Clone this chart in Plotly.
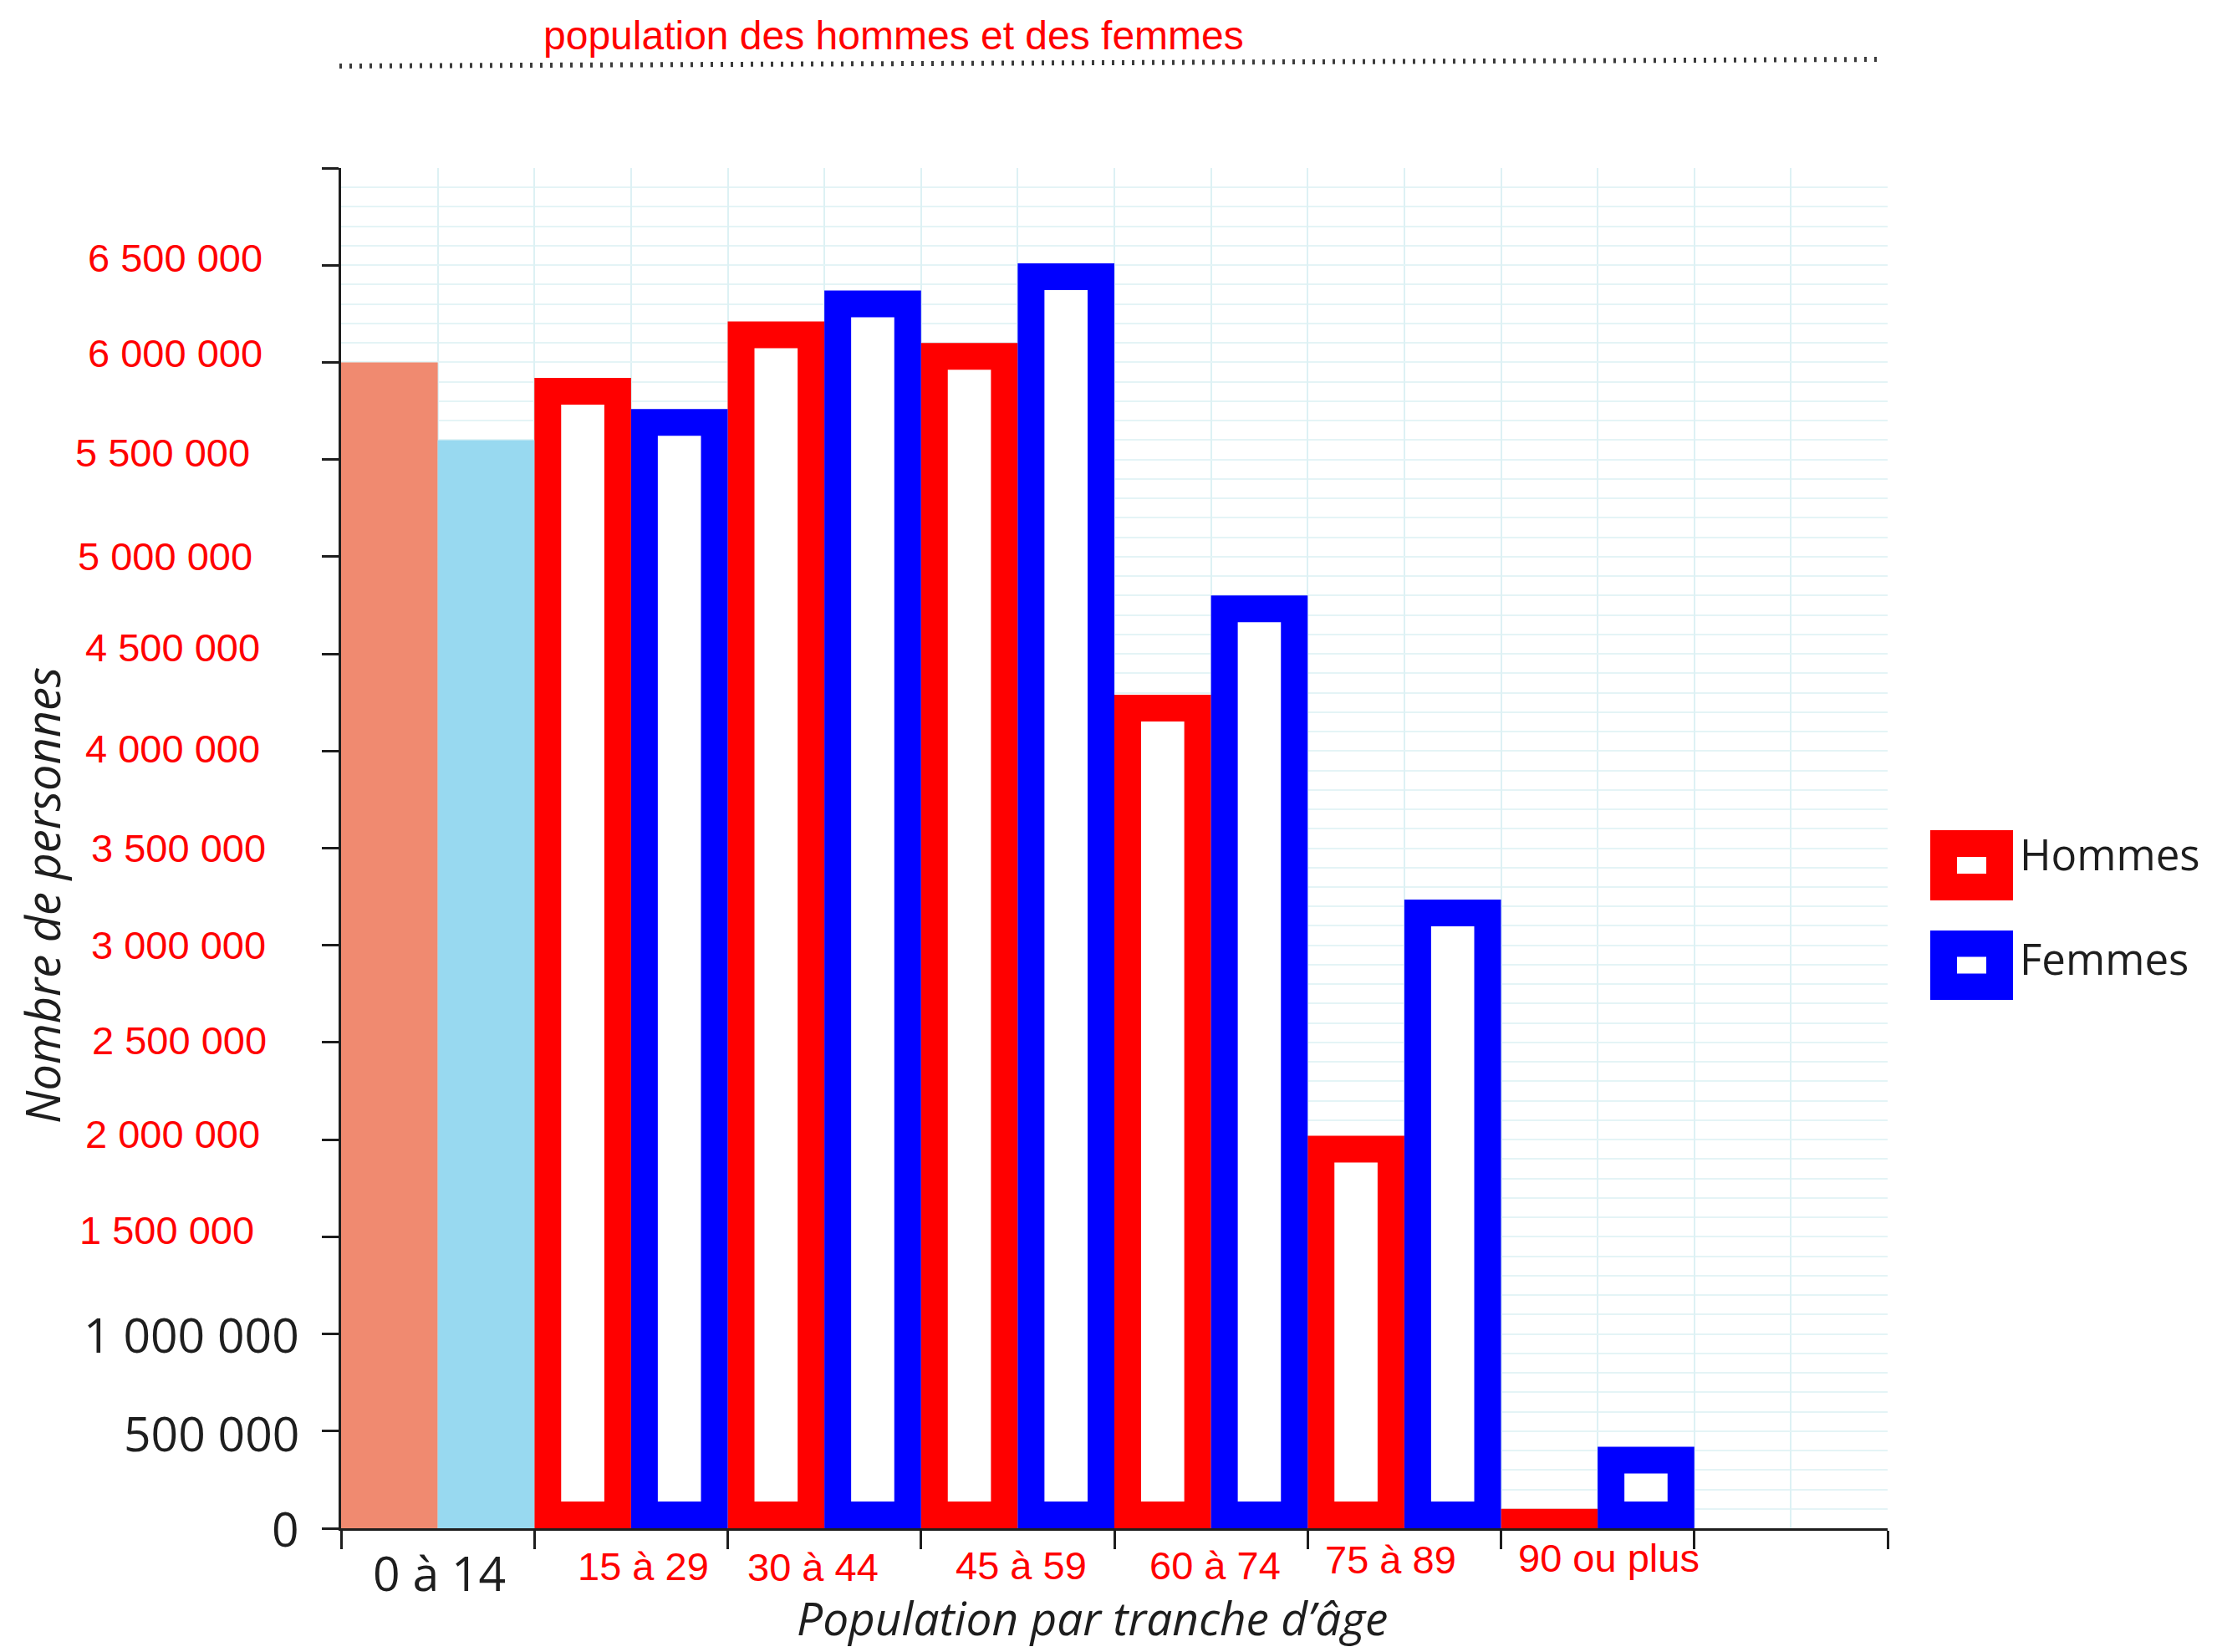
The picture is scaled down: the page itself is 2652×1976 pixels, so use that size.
import plotly.graph_objects as go

# ---- data -------------------------------------------------------------
age_groups = ["0 à 14", "15 à 29", "30 à 44", "45 à 59", "60 à 74", "75 à 89", "90 ou plus"]
hommes = [6000000, 5920000, 6210000, 6100000, 4290000, 2020000, 100000]
femmes = [5600000, 5760000, 6370000, 6510000, 4800000, 3235000, 420000]

y_tick_values = [0, 500000, 1000000, 1500000, 2000000, 2500000, 3000000,
                 3500000, 4000000, 4500000, 5000000, 5500000, 6000000, 6500000]
y_tick_texts = ["0", "500 000", "1 000 000", "1 500 000", "2 000 000", "2 500 000",
                "3 000 000", "3 500 000", "4 000 000", "4 500 000", "5 000 000",
                "5 500 000", "6 000 000", "6 500 000"]

# ---- page geometry ------------------------------------------------------
W, H = 2652, 1976
M_L, M_R, M_T, M_B = 408, 394, 201, 148
PLOT_W = W - M_L - M_R
PLOT_H = H - M_T - M_B
Y_MAX = 7000000
X_RANGE = [-0.5, len(age_groups) + 0.5]      # one spare slot on the right


def paper_x(px):
    return (px - M_L) / PLOT_W


def paper_y(py):
    return (H - M_B - py) / PLOT_H


# ---- styles -------------------------------------------------------------
RED = "#FF0000"
BLUE = "#0000FF"
SALMON = "#F08A70"
LIGHT_BLUE = "#98D9F0"
INK = "#1E1E1E"
GRID_V = "#DDF1F4"
GRID_H = "#E4F4F6"
RED_FONT = "Arial, Liberation Sans, sans-serif"
BOOK_FONT = "Open Sans, Noto Sans, sans-serif"

SLOT = 0.5                                    # each bar fills half a group
EDGE_PX = 32                                  # frame thickness of outlined bars
edge_x = EDGE_PX / (PLOT_W / (X_RANGE[1] - X_RANGE[0]))
edge_y = EDGE_PX / PLOT_H * Y_MAX


def inner_heights(values):
    # first group is drawn as solid bars; small bars stay fully filled
    out = [None]
    for v in values[1:]:
        h = v - 2 * edge_y
        out.append(h if h > 0 else None)
    return out


fig = go.Figure()

series = [
    ("Hommes", hommes, RED, SALMON, -SLOT),
    ("Femmes", femmes, BLUE, LIGHT_BLUE, 0.0),
]
for name, values, frame, solid, offset in series:
    fig.add_trace(go.Bar(
        x=age_groups, y=values, name=name,
        offset=offset, width=SLOT,
        marker=dict(color=[solid] + [frame] * (len(values) - 1), line=dict(width=0)),
        showlegend=False,
    ))
    fig.add_trace(go.Bar(
        x=age_groups, y=inner_heights(values), base=edge_y,
        offset=offset + edge_x, width=SLOT - 2 * edge_x,
        marker=dict(color="white", line=dict(width=0)),
        showlegend=False, hoverinfo="skip",
    ))

# numeric companion axis that carries the baseline, ticks and vertical grid
fig.add_trace(go.Scatter(x=[None], y=[None], xaxis="x2", yaxis="y",
                         mode="markers", showlegend=False, hoverinfo="skip"))

annotations = []

# y tick labels
y_label_dx = [-48, -48, -48, -102, -95, -87, -88, -88, -95, -95, -104, -107, -92, -92]
y_label_dy = [0, -2, 0, 8, 7, 2, 0, 0, 3, 8, 0, 8, 11, 9]
for i, (v, t) in enumerate(zip(y_tick_values, y_tick_texts)):
    if v <= 1000000:
        font = dict(family=BOOK_FONT, size=57, color=INK)
    else:
        font = dict(family=RED_FONT, size=47, color=RED)
    annotations.append(dict(
        x=0, xref="paper", y=v, yref="y", text=t, showarrow=False,
        xanchor="right", yanchor="middle",
        xshift=y_label_dx[i], yshift=y_label_dy[i], font=font,
    ))

# x category labels
x_label_dx = [2, 15, -14, 4, 5, -16, 13]
x_label_dy = [-53, -45, -46, -44, -44, -37, -35]
for i, g in enumerate(age_groups):
    if i == 0:
        font = dict(family=BOOK_FONT, size=57, color=INK)
    else:
        font = dict(family=RED_FONT, size=47, color=RED)
    annotations.append(dict(
        x=g, xref="x", y=0, yref="paper", text=g, showarrow=False,
        xanchor="center", yanchor="middle",
        xshift=x_label_dx[i], yshift=x_label_dy[i], font=font,
    ))

# axis titles
annotations.append(dict(
    x=paper_x(50), y=paper_y(1071), xref="paper", yref="paper",
    text="Nombre de personnes", textangle=-90, showarrow=False,
    xanchor="center", yanchor="middle",
    font=dict(family=BOOK_FONT, size=56, color=INK, style="italic"),
))
annotations.append(dict(
    x=paper_x(1306), y=paper_y(1934), xref="paper", yref="paper",
    text="Population par tranche d’âge", showarrow=False,
    xanchor="center", yanchor="middle",
    font=dict(family=BOOK_FONT, size=55, color=INK, style="italic"),
))

# chart title
annotations.append(dict(
    x=paper_x(1069), y=paper_y(42), xref="paper", yref="paper",
    text="population des hommes et des femmes", showarrow=False,
    xanchor="center", yanchor="middle",
    font=dict(family=RED_FONT, size=48, color=RED),
))

# dotted rule under the title and the legend
shapes = [
    dict(type="line", xref="paper", yref="paper",
         x0=paper_x(406), y0=paper_y(79), x1=paper_x(2253), y1=paper_y(71),
         line=dict(color="#3A3A3A", width=6, dash="3px,9px")),
]
legend_rows = [("Hommes", RED, 993, 1077, 1021), ("Femmes", BLUE, 1113, 1196, 1146)]
for label, color, top, bottom, text_y in legend_rows:
    shapes.append(dict(type="rect", xref="paper", yref="paper",
                       x0=paper_x(2309), x1=paper_x(2408),
                       y0=paper_y(bottom), y1=paper_y(top),
                       fillcolor=color, line=dict(width=0)))
    mid = (top + bottom) / 2
    shapes.append(dict(type="rect", xref="paper", yref="paper",
                       x0=paper_x(2341), x1=paper_x(2376),
                       y0=paper_y(mid + 10), y1=paper_y(mid - 10),
                       fillcolor="white", line=dict(width=0)))
    annotations.append(dict(
        x=paper_x(2414), y=paper_y(text_y), xref="paper", yref="paper",
        text=label, showarrow=False, xanchor="left", yanchor="middle",
        font=dict(family=BOOK_FONT, size=51, color=INK),
    ))

fig.update_layout(
    width=W, height=H,
    margin=dict(l=M_L, r=M_R, t=M_T, b=M_B, pad=0),
    paper_bgcolor="white", plot_bgcolor="white",
    barmode="overlay",
    showlegend=False,
    xaxis=dict(
        type="category", categoryorder="array", categoryarray=age_groups,
        range=X_RANGE, showticklabels=False, ticks="", showline=False,
        showgrid=False, zeroline=False,
    ),
    xaxis2=dict(
        overlaying="x", anchor="y", side="bottom", range=X_RANGE,
        tickmode="linear", tick0=-0.5, dtick=1,
        ticks="outside", ticklen=22, tickwidth=3, tickcolor=INK,
        showline=True, linewidth=3, linecolor=INK,
        showticklabels=False, zeroline=False,
        showgrid=True, gridcolor=GRID_V, gridwidth=2,
        minor=dict(tick0=-0.5, dtick=0.5, showgrid=True, gridcolor=GRID_V,
                   gridwidth=2, ticks=""),
    ),
    yaxis=dict(
        range=[0, Y_MAX], tickmode="linear", tick0=0, dtick=500000,
        ticks="outside", ticklen=20, tickwidth=3, tickcolor=INK,
        showline=True, linewidth=3, linecolor=INK,
        showticklabels=False, zeroline=False,
        showgrid=True, gridcolor=GRID_H, gridwidth=2,
        minor=dict(dtick=100000, showgrid=True, gridcolor=GRID_H, gridwidth=2, ticks=""),
    ),
    annotations=annotations,
    shapes=shapes,
)

fig.write_html("out.html")
